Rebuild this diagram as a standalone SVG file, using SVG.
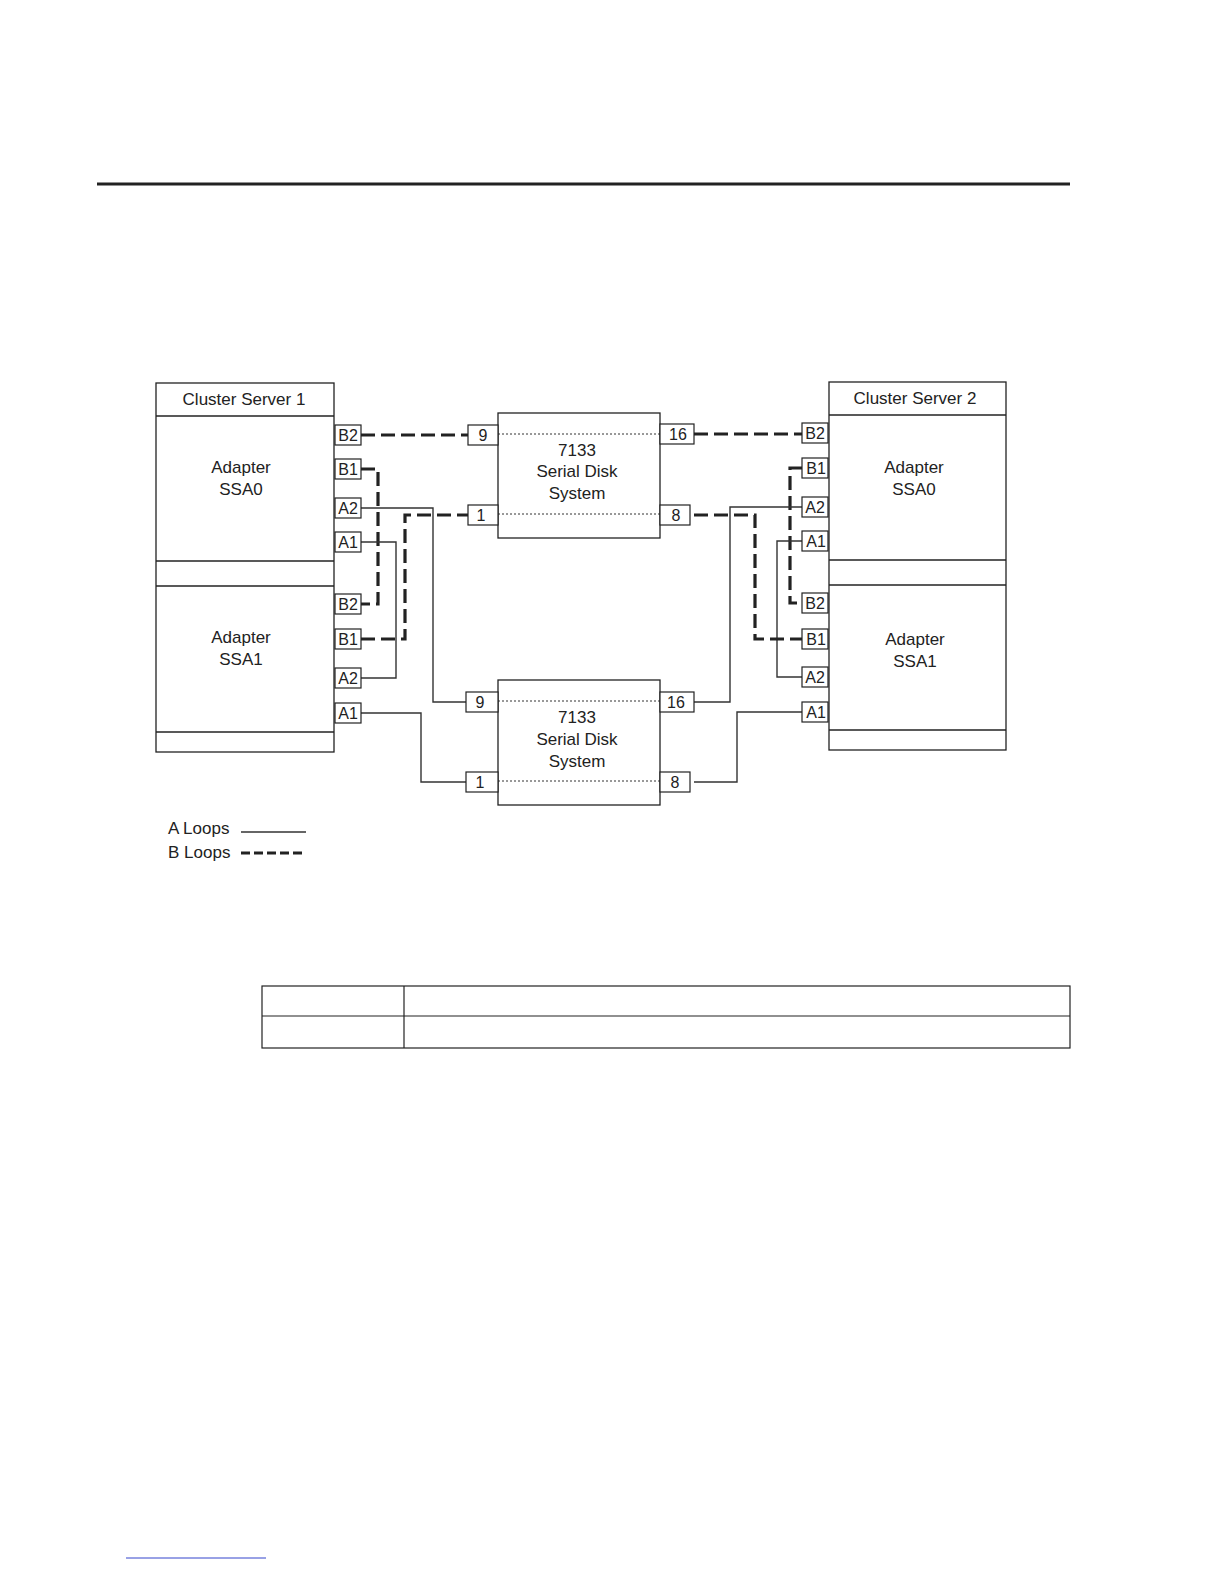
<svg xmlns="http://www.w3.org/2000/svg" width="1224" height="1584" viewBox="0 0 1224 1584">
<style>
.box{fill:#fff;stroke:#222;stroke-width:1.3}
.port{fill:#fff;stroke:#222;stroke-width:1.2}
.dot{stroke:#333;stroke-width:1;stroke-dasharray:2 2;fill:none}
.t{font-family:"Liberation Sans",Arial,sans-serif;font-size:17px;fill:#222;text-anchor:middle}
.p{font-family:"Liberation Sans",Arial,sans-serif;font-size:16px;fill:#222;text-anchor:middle}
.a{fill:none;stroke:#333;stroke-width:1.4}
.b{fill:none;stroke:#222;stroke-width:3.2;stroke-dasharray:14 6}
</style>
<rect width="1224" height="1584" fill="#fff"/>
<line x1="97" y1="184" x2="1070" y2="184" stroke="#222" stroke-width="3"/>
<g id="connectors">
<polyline class="b" points="361,435 468,435"/>
<polyline class="b" points="361,469 378,469 378,604 361,604"/>
<polyline class="a" points="361,508 433,508 433,702 468,702"/>
<polyline class="a" points="361,542 396,542 396,678 361,678"/>
<polyline class="b" points="361,639 405,639 405,515 468,515"/>
<polyline class="a" points="361,713 421,713 421,782 468,782"/>
<polyline class="b" points="694,434 802,434"/>
<polyline class="b" points="802,468 790,468 790,603 802,603"/>
<polyline class="a" points="802,507 730,507 730,702 694,702"/>
<polyline class="a" points="802,541 777,541 777,677 802,677"/>
<polyline class="b" points="694,515 755,515 755,639 802,639"/>
<polyline class="a" points="694,782 737,782 737,712 802,712"/>
</g>
<g id="server1">
<rect class="box" x="156" y="383" width="178" height="369"/>
<line x1="156" y1="416" x2="334" y2="416" stroke="#222" stroke-width="1.3"/>
<line x1="156" y1="561" x2="334" y2="561" stroke="#222" stroke-width="1.3"/>
<line x1="156" y1="586" x2="334" y2="586" stroke="#222" stroke-width="1.3"/>
<line x1="156" y1="732" x2="334" y2="732" stroke="#222" stroke-width="1.3"/>
<text class="t" x="244" y="405">Cluster Server 1</text>
<text class="t" x="241" y="473">Adapter</text><text class="t" x="241" y="495">SSA0</text>
<text class="t" x="241" y="643">Adapter</text><text class="t" x="241" y="665">SSA1</text>
<rect class="port" x="335" y="425" width="26" height="20"/><text class="p" x="348" y="441">B2</text>
<rect class="port" x="335" y="459" width="26" height="20"/><text class="p" x="348" y="475">B1</text>
<rect class="port" x="335" y="498" width="26" height="20"/><text class="p" x="348" y="514">A2</text>
<rect class="port" x="335" y="532" width="26" height="20"/><text class="p" x="348" y="548">A1</text>
<rect class="port" x="335" y="594" width="26" height="20"/><text class="p" x="348" y="610">B2</text>
<rect class="port" x="335" y="629" width="26" height="20"/><text class="p" x="348" y="645">B1</text>
<rect class="port" x="335" y="668" width="26" height="20"/><text class="p" x="348" y="684">A2</text>
<rect class="port" x="335" y="703" width="26" height="20"/><text class="p" x="348" y="719">A1</text>
</g>
<g id="server2">
<rect class="box" x="829" y="382" width="177" height="368"/>
<line x1="829" y1="415" x2="1006" y2="415" stroke="#222" stroke-width="1.3"/>
<line x1="829" y1="560" x2="1006" y2="560" stroke="#222" stroke-width="1.3"/>
<line x1="829" y1="585" x2="1006" y2="585" stroke="#222" stroke-width="1.3"/>
<line x1="829" y1="730" x2="1006" y2="730" stroke="#222" stroke-width="1.3"/>
<text class="t" x="915" y="404">Cluster Server 2</text>
<text class="t" x="914" y="473">Adapter</text><text class="t" x="914" y="495">SSA0</text>
<text class="t" x="915" y="645">Adapter</text><text class="t" x="915" y="667">SSA1</text>
<rect class="port" x="802" y="423" width="26" height="20"/><text class="p" x="815" y="439">B2</text>
<rect class="port" x="802" y="458" width="26" height="20"/><text class="p" x="816" y="474">B1</text>
<rect class="port" x="802" y="497" width="26" height="20"/><text class="p" x="815" y="513">A2</text>
<rect class="port" x="802" y="531" width="26" height="20"/><text class="p" x="816" y="547">A1</text>
<rect class="port" x="802" y="593" width="26" height="20"/><text class="p" x="815" y="609">B2</text>
<rect class="port" x="802" y="629" width="26" height="20"/><text class="p" x="816" y="645">B1</text>
<rect class="port" x="802" y="667" width="26" height="20"/><text class="p" x="815" y="683">A2</text>
<rect class="port" x="802" y="702" width="26" height="20"/><text class="p" x="816" y="718">A1</text>
</g>
<g id="disk1">
<rect class="box" x="498" y="413" width="162" height="125"/>
<line class="dot" x1="498" y1="434" x2="660" y2="434"/>
<line class="dot" x1="498" y1="514" x2="660" y2="514"/>
<text class="t" x="577" y="456">7133</text><text class="t" x="577" y="477">Serial Disk</text><text class="t" x="577" y="499">System</text>
<rect class="port" x="468" y="425" width="30" height="20"/><text class="p" x="483" y="441">9</text>
<rect class="port" x="468" y="505" width="30" height="20"/><text class="p" x="481" y="521">1</text>
<rect class="port" x="660" y="424" width="34" height="20"/><text class="p" x="678" y="440">16</text>
<rect class="port" x="660" y="505" width="30" height="20"/><text class="p" x="676" y="521">8</text>
</g>
<g id="disk2">
<rect class="box" x="498" y="680" width="162" height="125"/>
<line class="dot" x1="498" y1="701" x2="660" y2="701"/>
<line class="dot" x1="498" y1="781" x2="660" y2="781"/>
<text class="t" x="577" y="723">7133</text><text class="t" x="577" y="745">Serial Disk</text><text class="t" x="577" y="767">System</text>
<rect class="port" x="466" y="692" width="32" height="20"/><text class="p" x="480" y="708">9</text>
<rect class="port" x="466" y="772" width="32" height="20"/><text class="p" x="480" y="788">1</text>
<rect class="port" x="660" y="692" width="34" height="20"/><text class="p" x="676" y="708">16</text>
<rect class="port" x="660" y="772" width="30" height="20"/><text class="p" x="675" y="788">8</text>
</g>
<g id="legend">
<text class="t" x="168" y="834" style="text-anchor:start">A Loops</text>
<line x1="241" y1="832" x2="306" y2="832" stroke="#333" stroke-width="1.6"/>
<text class="t" x="168" y="858" style="text-anchor:start">B Loops</text>
<line x1="241" y1="853" x2="306" y2="853" stroke="#222" stroke-width="3.2" stroke-dasharray="9 4"/>
</g>
<g id="table" fill="none" stroke="#222" stroke-width="1.2">
<rect x="262" y="986" width="808" height="62"/>
<line x1="262" y1="1016" x2="1070" y2="1016"/>
<line x1="404" y1="986" x2="404" y2="1048"/>
</g>
<line x1="126" y1="1558" x2="266" y2="1558" stroke="#3344cc" stroke-width="1"/>
</svg>
